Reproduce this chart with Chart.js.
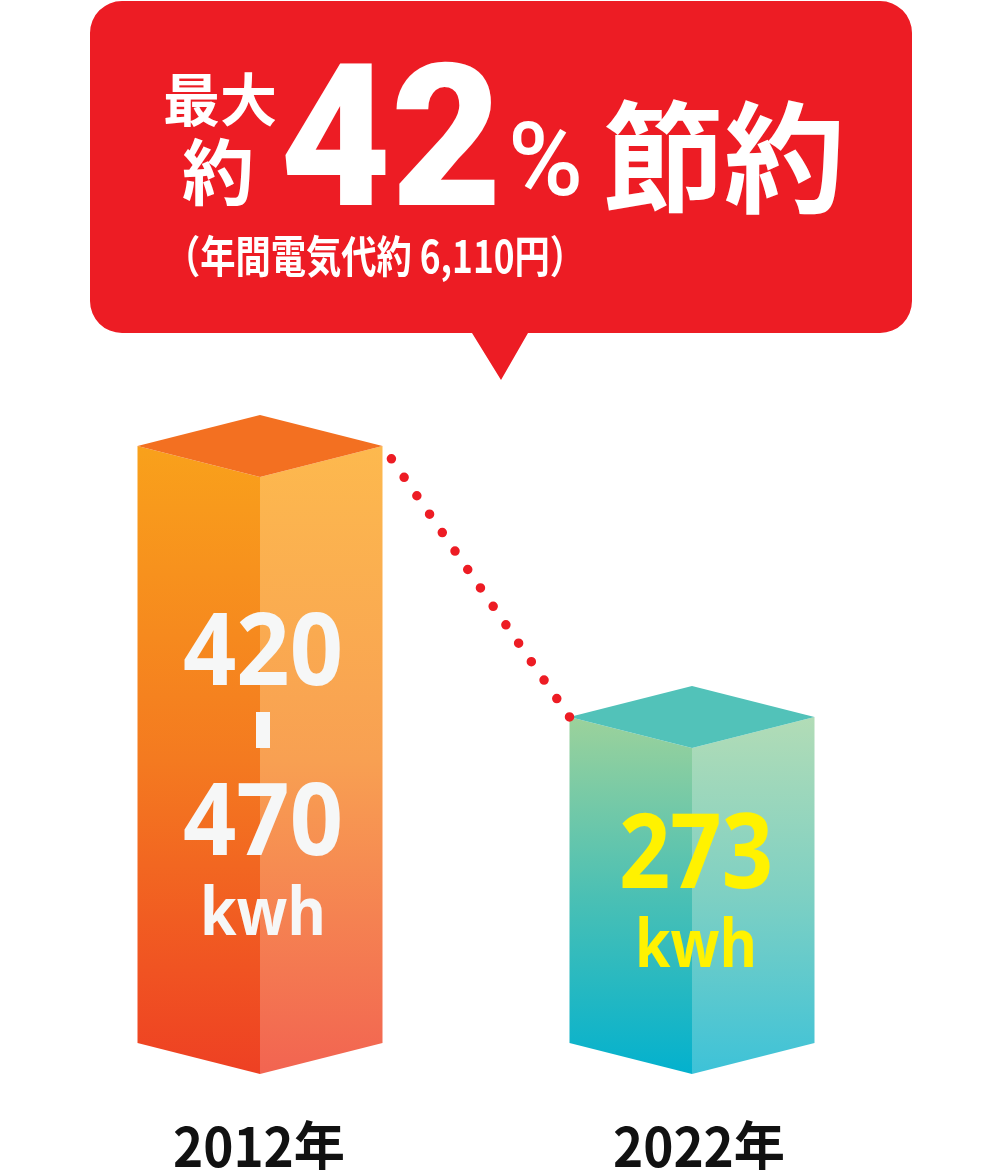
<!DOCTYPE html>
<html lang="ja">
<head>
<meta charset="utf-8">
<title>年間電力使用量</title>
<script src="https://cdn.jsdelivr.net/npm/chart.js@4/dist/chart.umd.min.js"></script>
<style>
  html, body { margin: 0; padding: 0; background: #fff; }
  canvas { display: block; }
</style>
</head>
<body>
<canvas id="c" width="1000" height="1170"></canvas>
<script>
"use strict";
// データ
const years = ["2012年", "2022年"];
const usageLow = [420, 273];   // kWh（下限）
const usageHigh = [470, 273];  // kWh（上限）— 棒の高さ
const axisMin = 36, axisMax = 500;
const saving = { pct: "42", yen: "6,110" };

const JP = '"Noto Sans CJK JP", "Noto Sans", sans-serif';
const LAT = '"Open Sans", "Noto Sans", sans-serif';

// 棒ごとの色（左面 上→下, 右面 上→下, 天面）
const faces = [
  { l: ["#F9A11B", "#F47A20", "#EE4023"], r: ["#FDB94E", "#F8A052", "#F26451"], top: "#F37021", txt: "#F6F7F7" },
  { l: ["#9CD29B", "#4BC0B4", "#03B1CE"], r: ["#B2DCB6", "#7ED0C3", "#3DC2D8"], top: "#52C2B9", txt: "#FFF200" }
];

function grad(ctx, y0, y1, cols) {
  const g = ctx.createLinearGradient(0, y0, 0, y1);
  cols.forEach((c, i) => g.addColorStop(i / (cols.length - 1), c));
  return g;
}
function poly(ctx, pts, fill) {
  ctx.beginPath();
  pts.forEach((p, i) => i ? ctx.lineTo(p[0], p[1]) : ctx.moveTo(p[0], p[1]));
  ctx.closePath(); ctx.fillStyle = fill; ctx.fill();
}

// 吹き出し
const callout = {
  id: "callout",
  beforeDraw(chart) {
    const ctx = chart.ctx;
    const x0 = 90, y0 = 1, x1 = 912, y1 = 333, r = 32;
    ctx.save();
    ctx.fillStyle = "#ED1C24";
    ctx.beginPath();
    ctx.moveTo(x0 + r, y0);
    ctx.arcTo(x1, y0, x1, y1, r);
    ctx.arcTo(x1, y1, x0, y1, r);
    ctx.lineTo(528, y1); ctx.lineTo(501, 380); ctx.lineTo(472, y1);
    ctx.arcTo(x0, y1, x0, y0, r);
    ctx.arcTo(x0, y0, x1, y0, r);
    ctx.closePath(); ctx.fill();

    ctx.fillStyle = "#fff";
    ctx.textAlign = "center"; ctx.textBaseline = "middle";
    ctx.font = "700 57px " + JP; ctx.fillText("最大", 220, 99);
    ctx.font = "700 72px " + JP; ctx.fillText("約", 218, 172);
    ctx.font = "700 121px " + JP; ctx.fillText("節約", 724, 157);
    ctx.font = "700 44px " + JP; ctx.fillText("（年間電気代約 " + saving.yen + "円）", 375, 256, 420);
    ctx.textAlign = "left"; ctx.textBaseline = "alphabetic";
    ctx.font = '900 198px Roboto, "Noto Sans", sans-serif'; ctx.fillText(saving.pct, 280, 205, 222);
    ctx.font = '500 102px Roboto, "Noto Sans", sans-serif'; ctx.fillText("%", 508, 195);
    ctx.restore();
  }
};

// 立体の棒・点線・ラベル
const boxes = {
  id: "boxes",
  afterDatasetsDraw(chart) {
    const ctx = chart.ctx, d = 31;
    const bars = chart.getDatasetMeta(0).data;
    const corners = [];
    ctx.save();
    bars.forEach((b, i) => {
      const f = faces[i], w = b.width / 2, x = b.x, y = b.y, base = b.base;
      poly(ctx, [[x - w, y], [x, y + d], [x, base + d], [x - w, base]], grad(ctx, y, base + d, f.l));
      poly(ctx, [[x, y + d], [x + w, y], [x + w, base], [x, base + d]], grad(ctx, y, base + d, f.r));
      poly(ctx, [[x - w, y], [x, y - d], [x + w, y], [x, y + d]], f.top);
      corners.push([x - w, y], [x + w, y]);
    });

    // 点線（2012右上 → 2022左上）
    const a = corners[1], e = corners[2];
    const len = Math.hypot(a[0] - e[0], a[1] - e[1]);
    ctx.strokeStyle = "#ED1C24"; ctx.lineWidth = 9.5; ctx.lineCap = "round";
    ctx.setLineDash([0, len / 14.7]);
    ctx.beginPath(); ctx.moveTo(e[0], e[1]); ctx.lineTo(a[0], a[1]); ctx.stroke();
    ctx.setLineDash([]);

    // 数値ラベル
    ctx.textAlign = "center"; ctx.textBaseline = "alphabetic";
    const b0 = bars[0], b1 = bars[1];
    ctx.fillStyle = faces[0].txt;
    ctx.font = "700 100px " + LAT;
    ctx.fillText(String(usageLow[0]), b0.x + 3, 685, 160);
    ctx.fillRect(b0.x - 4, 712, 14, 36);
    ctx.fillText(String(usageHigh[0]), b0.x + 3, 855, 160);
    ctx.font = "700 66px " + LAT;
    ctx.fillText("kwh", b0.x + 3, 935, 126);
    ctx.fillStyle = faces[1].txt;
    ctx.font = "700 104px " + LAT;
    ctx.fillText(String(usageHigh[1]), b1.x + 4, 888, 154);
    ctx.font = "700 66px " + LAT;
    ctx.fillText("kwh", b1.x + 4, 967, 122);

    // 年ラベル
    ctx.fillStyle = "#111";
    ctx.font = "700 54px " + JP;
    const xs = chart.scales.x;
    years.forEach((t, i) => ctx.fillText(t, xs.getPixelForValue(i) + (i ? 7 : -1), 1167, 172));
    ctx.restore();
  }
};

new Chart(document.getElementById("c"), {
  type: "bar",
  data: { labels: years, datasets: [{ data: usageHigh, base: axisMin, backgroundColor: "rgba(0,0,0,0)", borderWidth: 0 }] },
  options: {
    responsive: false, animation: false, devicePixelRatio: 1,
    layout: { padding: { left: 44, right: 92, top: 404.7, bottom: 127 } },
    barThickness: 245,
    scales: {
      x: { display: false },
      y: { display: false, min: axisMin, max: axisMax }
    },
    plugins: { legend: { display: false }, tooltip: { enabled: false } }
  },
  plugins: [callout, boxes]
});
</script>
</body>
</html>
